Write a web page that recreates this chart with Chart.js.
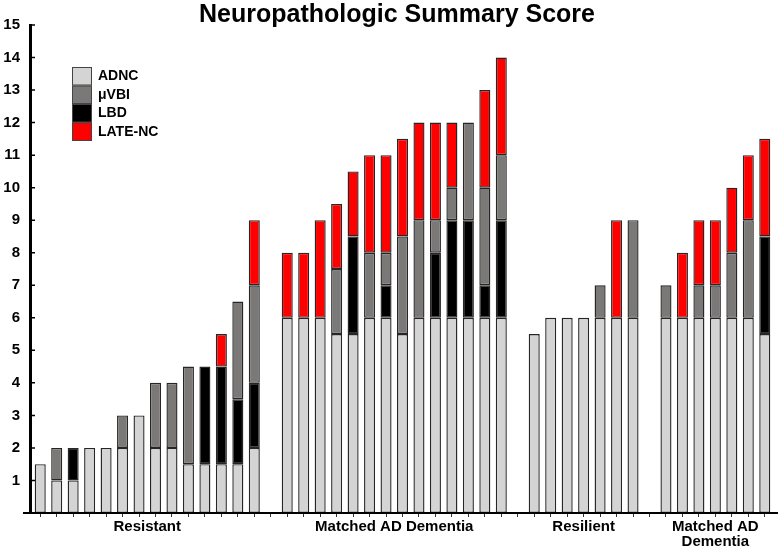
<!DOCTYPE html>
<html>
<head>
<meta charset="utf-8">
<script src="https://cdn.jsdelivr.net/npm/chart.js@4.4.1/dist/chart.umd.min.js"></script>
<style>
  html, body { margin: 0; padding: 0; background: #fff; }
  #wrap { width: 778px; height: 551px; }
</style>
</head>
<body>
<div id="wrap"><canvas id="chart"></canvas></div>
<script>
// groups along the x axis, one empty slot between groups
const groupNames = ['Resistant', 'Matched AD Dementia', 'Resilient', ['Matched AD', 'Dementia']];
const groupSizes = [14, 14, 7, 7];

// score components per case (null = gap slot between groups)
const adnc = [1.5, 1, 1, 2, 2, 2, 3, 2, 2, 1.5, 1.5, 1.5, 1.5, 2, null,
              6, 6, 6, 5.5, 5.5, 6, 6, 5.5, 6, 6, 6, 6, 6, 6, null,
              5.5, 6, 6, 6, 6, 6, 6, null,
              6, 6, 6, 6, 6, 6, 5.5];
const lbd  = [0, 0, 1, 0, 0, 0, 0, 0, 0, 0, 3, 3, 2, 2, null,
              0, 0, 0, 0, 3, 0, 1, 0, 0, 2, 3, 3, 1, 3, null,
              0, 0, 0, 0, 0, 0, 0, null,
              0, 0, 0, 0, 0, 0, 3];
const mvbi = [0, 1, 0, 0, 0, 1, 0, 2, 2, 3, 0, 0, 3, 3, null,
              0, 0, 0, 2, 0, 2, 1, 3, 3, 1, 1, 3, 3, 2, null,
              0, 0, 0, 0, 1, 0, 3, null,
              1, 0, 1, 1, 2, 3, 0];
const late = [0, 0, 0, 0, 0, 0, 0, 0, 0, 0, 0, 1, 0, 2, null,
              2, 2, 3, 2, 2, 3, 3, 3, 3, 3, 2, 0, 3, 3, null,
              0, 0, 0, 0, 0, 3, 0, null,
              0, 2, 2, 2, 2, 2, 3];

const yTicks = [1, 2, 3, 4, 5, 6, 7, 8, 9, 10, 11, 12, 13, 14, 15];
const legendOrder = ['ADNC', 'μVBI', 'LBD', 'LATE-NC'];

// category labels: one per case, blank for gaps
const labels = [];
groupSizes.forEach((n, g) => {
  for (let i = 0; i < n; i++) labels.push('g' + g + '-' + (i + 1));
  if (g < groupSizes.length - 1) labels.push('');
});

const FONT = '"Liberation Sans", Arial, sans-serif';
const nz = arr => arr.map(v => (v === 0 ? null : v));

const ds = (label, data, color) => ({
  label, data: nz(data), backgroundColor: color,
  borderColor: '#262626', borderWidth: 1.4, borderSkipped: false,
  barPercentage: 0.67, categoryPercentage: 1
});

// title, axis lines, group names and legend
const decor = {
  id: 'decor',
  afterDraw(chart) {
    const { ctx, chartArea: a, scales: { x, y } } = chart;
    const y0 = y.getPixelForValue(0);
    ctx.save();
    ctx.strokeStyle = '#000';
    ctx.lineWidth = 2;
    ctx.beginPath(); ctx.moveTo(a.left - 9, y0); ctx.lineTo(chart.width, y0); ctx.stroke();
    ctx.lineWidth = 3;
    ctx.beginPath(); ctx.moveTo(a.left - 1.5, y.getPixelForValue(15) - 1); ctx.lineTo(a.left - 1.5, y0); ctx.stroke();
    ctx.lineWidth = 1.5;
    ctx.beginPath();
    yTicks.forEach(v => { const p = y.getPixelForValue(v); ctx.moveTo(a.left, p); ctx.lineTo(a.left + 3, p); });
    ctx.stroke();

    ctx.fillStyle = '#000';
    ctx.textAlign = 'center';
    ctx.textBaseline = 'alphabetic';
    ctx.font = 'bold 25px ' + FONT;
    ctx.fillText('Neuropathologic Summary Score', chart.width / 2 + 8, 22);

    ctx.font = 'bold 15px ' + FONT;
    ctx.textBaseline = 'middle';
    let start = 0;
    groupSizes.forEach((n, g) => {
      const cx = (x.getPixelForValue(start) + x.getPixelForValue(start + n - 1)) / 2;
      const lines = [].concat(groupNames[g]);
      lines.forEach((t, k) => ctx.fillText(t, cx, y0 + 13.5 + k * 15));
      start += n + 1;
    });

    ctx.textAlign = 'left';
    ctx.font = 'bold 14px ' + FONT;
    legendOrder.forEach((name, k) => {
      const d = chart.data.datasets.find(s => s.label === name);
      const top = 67 + k * 18.5;
      ctx.fillStyle = d.backgroundColor;
      ctx.fillRect(72, top, 20, 18.5);
      ctx.strokeStyle = '#444';
      ctx.lineWidth = 1;
      ctx.strokeRect(72.5, top + 0.5, 19, 17.5);
      ctx.fillStyle = '#000';
      ctx.fillText(name, 98, top + 9.5);
    });
    ctx.restore();
  }
};

new Chart(document.getElementById('chart'), {
  type: 'bar',
  data: {
    labels,
    datasets: [
      ds('ADNC', adnc, '#d4d4d4'),
      ds('LBD', lbd, '#000000'),
      ds('μVBI', mvbi, '#7b7878'),
      ds('LATE-NC', late, '#ff0000')
    ]
  },
  options: {
    responsive: true,
    maintainAspectRatio: false,
    animation: false,
    layout: { padding: { top: 25, right: 5, left: 0, bottom: 0 } },
    plugins: { legend: { display: false }, title: { display: false }, tooltip: { enabled: false } },
    scales: {
      x: {
        stacked: true,
        border: { display: false },
        grid: { display: true, drawOnChartArea: false, drawTicks: true, tickLength: 4, offset: false, color: '#333', lineWidth: 1 },
        ticks: { display: false },
        afterFit: s => { s.height = 38; }
      },
      y: {
        stacked: true,
        min: 0, max: 15,
        border: { display: false },
        grid: { display: false, drawTicks: false },
        ticks: {
          stepSize: 1, padding: 12, color: '#000',
          font: { family: FONT, size: 15, weight: 'bold' },
          callback: v => (v === 0 ? '' : v)
        },
        afterFit: s => { s.width = 32; }
      }
    }
  },
  plugins: [decor]
});
</script>
</body>
</html>
